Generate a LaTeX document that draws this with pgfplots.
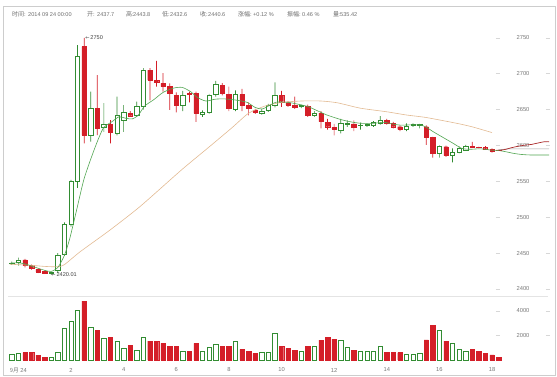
\documentclass[border=0pt]{standalone}
\usepackage{fontspec}
\setmainfont{Liberation Sans}
\newfontfamily\cjk{Noto Sans CJK SC}
\newfontfamily\dejavu{DejaVu Sans}
\newfontfamily\mono{Liberation Mono}
\usepackage{pgfplots}
\usepackage{pgfplotstable}
\pgfplotsset{compat=1.18}

\definecolor{cred}{RGB}{212,30,40}
\definecolor{cgreen}{RGB}{50,140,50}
\definecolor{magreen}{RGB}{80,165,80}
\definecolor{matan}{RGB}{226,186,146}
\definecolor{fcred}{RGB}{170,40,40}
\definecolor{fcgrey}{RGB}{160,160,160}
\definecolor{txtc}{RGB}{110,110,110}
\definecolor{tickc}{RGB}{120,120,120}
\definecolor{framec}{RGB}{205,205,205}
\definecolor{sepc}{RGB}{228,228,228}
\definecolor{dashc}{RGB}{215,215,215}

% rising (hollow green) candles: index, open, high, low, close, volume
\pgfplotstableread{
k O H L C V
0 2435.5 2438 2433.5 2436 463
1 2437.7 2443.8 2432.6 2440.6 535
6 2421.8 2424 2420.01 2422.3 190
7 2426.5 2450 2422 2447 626
8 2448 2493 2446 2490 2585
9 2490 2552 2487 2549.5 3184
10 2549.5 2740 2540.8 2723.8 4082
12 2614.6 2675 2605.3 2651.8 2639
14 2626 2659 2619 2629.5 1769
16 2617 2668 2614 2642.5 1551
17 2635.5 2656.4 2619 2646 952
19 2642.5 2661 2640 2654 816
20 2654 2708 2650 2705 1850
26 2656 2676 2648 2670 735
29 2644 2649 2640 2646 735
30 2646 2672 2644 2670 1034
31 2671 2690 2668 2685 1279
34 2650.8 2677 2648 2671.4 1551
38 2645 2651 2643 2648 599
39 2649.5 2658 2647 2656.4 626
40 2656 2688 2653 2670 2177
44 2654 2657 2652 2656 735
46 2642.5 2648 2640 2645 1088
50 2621.6 2637 2617 2630.9 1578
51 2630 2635 2626 2631 1034
53 2627.5 2632 2622 2628.5 735
54 2628.5 2631 2626 2629 680
55 2627.6 2634 2626 2632.3 735
56 2631 2641 2629 2635.5 1088
60 2622.6 2631 2620 2626.2 463
61 2628 2631 2626 2628.6 500
62 2628 2630 2624 2628.6 550
65 2589 2600 2583 2598.3 2450
67 2585.8 2596 2576.6 2590 1360
68 2590.5 2599 2589 2596 900
69 2593.7 2601 2593 2598.3 700
}\upT

% falling (red) candles
\pgfplotstableread{
k O H L C V
2 2440.5 2442 2430 2432.5 599
3 2432.5 2434 2427 2428.8 599
4 2427.4 2429 2422 2424 408
5 2425 2426 2421 2422 218
11 2737.7 2750 2603 2614.6 4816
13 2652 2698 2614.6 2624 2449
15 2629.5 2635.5 2603 2618.4 1850
18 2645 2648 2640 2641.5 1224
21 2705 2708 2663 2691 1551
22 2690.5 2718 2682 2688 1551
23 2686.6 2701 2675 2682 1361
24 2682 2686.7 2649.5 2672.7 1088
25 2670 2674 2646 2656 1143
27 2673 2675 2660 2671 680
28 2672.7 2675 2633 2644.9 1361
32 2684.3 2687 2670 2672.7 1088
33 2671.4 2682 2648 2651.8 1088
35 2671 2679 2648 2656 871
36 2656 2660 2642 2651.8 735
37 2649 2651 2644 2646 544
41 2670 2676 2654 2661 1143
42 2659.6 2662 2654 2656.4 952
43 2656 2668 2651 2652.7 762
45 2655 2657 2640 2642.5 1143
47 2645 2648 2624 2633.2 1633
48 2632.3 2637 2622 2626.2 1850
49 2625 2630 2614 2623 1714
52 2630 2635 2620 2625.4 816
57 2635.5 2637 2629 2631 626
58 2631 2633 2624 2626.2 599
59 2626.2 2628 2620 2622.6 599
63 2626.2 2628 2600.7 2610.9 1650
64 2610.9 2612 2583 2589 2850
66 2598.3 2599.7 2584 2585.8 1550
70 2598.3 2605 2597 2597.5 871
71 2597.5 2598.5 2596 2597 735
72 2597 2599 2595 2595.5 544
73 2595 2596 2590 2592.3 420
74 2593.8 2594 2592.5 2593 200
}\downT

% short moving average (green)
\pgfplotstableread{
k v
-0.3 2436
1 2436.5
2 2435
3 2432
4 2429
5 2426
6 2424.5
7 2430
8 2447
8.8 2470
9.8 2508
11 2554
12.6 2596
13.9 2624
15.2 2633
16.3 2640
17.3 2638
18.3 2637
19.2 2642
20.2 2655
21.6 2664
23 2674
24.6 2680
25.9 2681
27.2 2675
28.2 2667
29.5 2662
30.9 2664.5
32.3 2665
34.3 2663
35.8 2660
37 2653
38.1 2651
39.2 2656
40.2 2660.5
42.1 2660
44.1 2656.4
45.1 2654
46.2 2649.5
47.9 2642.5
49.9 2636.5
51.5 2633
53 2631
55 2631
56.6 2632.3
58.1 2629.5
59.2 2628.3
60 2628.6
62.1 2628.6
63.1 2625
64.1 2619
65.6 2611
67.1 2603
68.4 2596
69.6 2594.7
71.2 2595.4
72.8 2593.7
74 2593
75 2591.5
76.3 2589
77.5 2587.5
78.8 2586.8
81.7 2586.8
}\maS

% long moving average (tan)
\pgfplotstableread{
k v
-0.3 2434.5
3 2433
5 2431.5
7 2431
8 2434
10.4 2452
14.9 2482
19.5 2515
25.8 2566
30 2598
33.5 2625
36 2645
38.5 2655
41 2660
44 2662
47 2662
49.5 2659.5
53 2652
57 2647
60 2642.5
63 2639
67.6 2631
70 2626
73 2618
}\maL

% forecast lines after the last candle
\pgfplotstableread{
k v
74 2593
75 2594.5
76 2597
77 2599
78 2600.5
79 2601.5
80 2603.5
81 2605.3
81.7 2605.3
}\fcR

\pgfplotstableread{
k v
74 2594
75.5 2595.3
81.7 2595.3
}\fcG

\newcommand\tk{\fontsize{5.8}{7}\selectfont}
\newcommand\hd{\fontsize{5.6}{7}\selectfont}
\newcommand\hc{\fontsize{6}{7}\selectfont}

\pgfplotsset{
  pricebase/.style={scale only axis, width=552bp, height=275.5bp,
    xmin=-1.3378, xmax=82.578, ymin=2389.55, ymax=2773.52,
    at={(3bp,79.5bp)}, anchor=south west},
}

\begin{document}
\begin{tikzpicture}[x=1bp,y=1bp]
\path[use as bounding box] (0,0) rectangle (557,376);

% frame
\draw[framec, line width=0.7bp] (3,1) -- (3,370) -- (555.5,370) -- (555.5,1) -- cycle;
\draw[sepc, line width=0.6bp] (8,79.5) -- (548,79.5);

% header
\begin{scope}[every node/.style={anchor=west, inner sep=0pt, text=txtc}]
\node at (12,361.7) {\hc\cjk 时间:};
\node at (28,361.7) {\hd 2014 09 24 00:00};
\node at (87,361.7) {\hc\cjk 开:};
\node at (97,361.7) {\hd 2437.7};
\node at (126,361.7) {\hc\cjk 高:};
\node at (133,361.7) {\hd 2443.8};
\node at (162,361.7) {\hc\cjk 低:};
\node at (170,361.7) {\hd 2432.6};
\node at (200,361.7) {\hc\cjk 收:};
\node at (208,361.7) {\hd 2440.6};
\node at (238,361.7) {\hc\cjk 涨幅:};
\node at (253,361.7) {\hd +0.12 \%};
\node at (287,361.7) {\hc\cjk 振幅:};
\node at (302,361.7) {\hd 0.46 \%};
\node at (333,361.7) {\hc\cjk 量:};
\node at (340,361.7) {\hd 535.42};
\end{scope}

% wicks
\begin{axis}[pricebase, hide axis, ybar stacked, bar width=0.7bp]
\addplot[draw=none, fill=none] table[x=k, y=L] {\downT};
\addplot[draw=none, fill=cred] table[x=k, y expr={max(\thisrow{H}-\thisrow{L},1)}] {\downT};
\end{axis}
\begin{axis}[pricebase, hide axis, ybar stacked, bar width=0.7bp]
\addplot[draw=none, fill=none] table[x=k, y=L] {\upT};
\addplot[draw=none, fill=cgreen] table[x=k, y expr={max(\thisrow{H}-\thisrow{L},1)}] {\upT};
\end{axis}

% bodies
\begin{axis}[pricebase, hide axis, ybar stacked, bar width=4.4bp]
\addplot[draw=none, fill=none] table[x=k, y=C] {\downT};
\addplot[draw=cred, fill=cred, line width=0.4bp] table[x=k, y expr={max(\thisrow{O}-\thisrow{C},0.9)}] {\downT};
\end{axis}
\begin{axis}[pricebase, hide axis, ybar stacked, bar width=4.4bp]
\addplot[draw=none, fill=none] table[x=k, y=O] {\upT};
\addplot[draw=cgreen, fill=white, line width=0.6bp] table[x=k, y expr={max(\thisrow{C}-\thisrow{O},0.9)}] {\upT};
\end{axis}

% main axis: moving averages, tick labels, annotations
\begin{axis}[pricebase, axis line style={draw=none}, xtick=\empty,
  ytick={2400,2450,2500,2550,2600,2650,2700,2750},
  yticklabels={2400,2450,2500,2550,2600,2650,2700,2750},
  yticklabel pos=right, major tick length=0pt,
  yticklabel style={anchor=center, xshift=-32bp, font=\tk, text=tickc}]
\addplot[matan, line width=0.6bp, mark=none, smooth, tension=0.4] table[x=k, y=v] {\maL};
\addplot[magreen, line width=0.6bp, mark=none, smooth, tension=0.4] table[x=k, y=v] {\maS};
\addplot[fcgrey, line width=0.6bp, mark=none] table[x=k, y=v] {\fcG};
\addplot[fcred, line width=0.7bp, mark=none, smooth, tension=0.4] table[x=k, y=v] {\fcR};
\pgfplotsinvokeforeach{2400,2450,2500,2550,2600,2650,2700,2750}{
  \draw[dashc, line width=0.5bp] (axis cs:73.6,#1) -- (axis cs:74.2,#1);
  \draw[dashc, line width=0.5bp] (axis cs:81.2,#1) -- (axis cs:81.8,#1);
}
\node[anchor=west, inner sep=0pt, font=\hd, text=black!75] at (axis cs:11.15,2750) {{\dejavu\fontsize{5}{6}\selectfont ←}\,2750};
\node[anchor=west, inner sep=0pt, font=\hd, text=black!75] at (axis cs:6.0,2420.01) {{\dejavu\fontsize{5}{6}\selectfont ←}\,2420.01};
\end{axis}

% volume
\begin{axis}[scale only axis, width=552bp, height=63.5bp, at={(3bp,16bp)}, anchor=south west,
  xmin=-1.3378, xmax=82.578, ymin=0, ymax=5184,
  axis line style={draw=none}, major tick length=0pt,
  xtick={1,9,17,25,33,41,49,57,65,73},
  xticklabels={{\cjk 9月} 24,2,4,6,8,10,12,14,16,18},
  xticklabel style={anchor=center, yshift=-10bp, font=\tk, text=tickc},
  ytick={2000,4000}, yticklabels={2000,4000},
  yticklabel pos=right,
  yticklabel style={anchor=center, xshift=-32bp, font=\tk, text=tickc}]
\addplot[ybar, bar width=4.4bp, bar shift=0pt, fill=cred, draw=cred, line width=0.4bp] table[x=k, y=V] {\downT};
\addplot[ybar, bar width=4.4bp, bar shift=0pt, fill=white, draw=cgreen, line width=0.6bp] table[x=k, y=V] {\upT};
\pgfplotsinvokeforeach{2000,4000}{
  \draw[dashc, line width=0.5bp] (axis cs:73.6,#1) -- (axis cs:74.2,#1);
  \draw[dashc, line width=0.5bp] (axis cs:81.2,#1) -- (axis cs:81.8,#1);
}
\end{axis}
\end{tikzpicture}
\end{document}
